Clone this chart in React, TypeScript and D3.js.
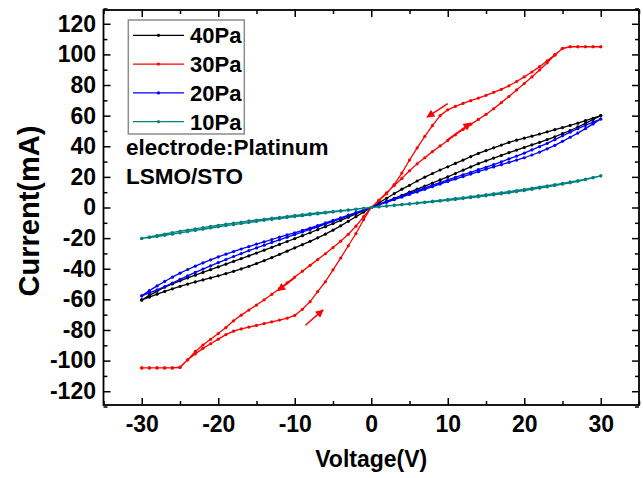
import React, { useRef, useEffect } from 'react';
import * as d3 from 'd3';

// sweep voltages (V)
const VOLTS = [0, 1, 2, 3, 4, 5, 6, 7, 8, 9, 10, 11, 12, 13, 14, 15, 16, 17, 18, 19, 20, 21, 22, 23, 24, 25, 26, 27, 28, 29, 30];
const NEG_VOLTS = [0, -1, -2, -3, -4, -5, -6, -7, -8, -9, -10, -11, -12, -13, -14, -15, -16, -17, -18, -19, -20, -21, -22, -23, -24, -25, -26, -27, -28, -29, -30];

// currents (mA), each branch listed at VOLTS / NEG_VOLTS order
const P40_POS_A = [0, 3, 6, 9, 12, 14.5, 17.3, 19.8, 22.2, 24.5, 26.6, 28.8, 31, 33.2, 35.3, 37.2, 39, 40.8, 42.5, 44, 45.3, 46.6, 48, 49.4, 50.8, 52.2, 53.6, 55.1, 56.7, 58.3, 60];
const P40_POS_B = [0, 2, 4, 6, 8, 10, 12, 14, 16, 18, 20, 22.2, 24.4, 26.5, 28.6, 30.5, 32.3, 34, 35.8, 37.5, 39.2, 40.9, 42.6, 44.4, 46.2, 48.2, 50.3, 52.6, 55, 57.5, 60];
const P40_NEG_A = [0, -3, -6, -9, -12, -14.8, -17.4, -19.8, -22.1, -24.3, -26.4, -28.5, -30.6, -32.7, -34.7, -36.6, -38.4, -40.1, -41.7, -43.2, -44.6, -46, -47.3, -48.6, -50, -51.5, -53.1, -54.8, -56.6, -58.5, -60.4];
const P40_NEG_B = [0, -2.1, -4.2, -6.3, -8.4, -10.5, -12.5, -14.5, -16.5, -18.4, -20.3, -22.2, -24.1, -26, -27.9, -29.8, -31.6, -33.4, -35.2, -37, -38.8, -40.6, -42.4, -44.2, -46, -47.9, -49.9, -52.1, -54.6, -57.4, -60.4];

const P30_POS_A = [0, 4.8, 9.6, 14.3, 19, 24, 28.5, 32.5, 36.5, 40.2, 43.8, 47.5, 51, 54.3, 57.5, 60.8, 64.5, 68.5, 72.5, 76.8, 81, 85.3, 89.8, 94.5, 99.5, 104, 105, 105, 105, 105, 105];
const P30_POS_B = [0, 4.5, 9, 15, 22.5, 31, 39, 46.5, 53.5, 60, 63.8, 66, 68, 69.8, 71.5, 73.3, 75.2, 77.2, 79.5, 82.3, 85.3, 88.5, 92, 95.8, 99.8, 103.8, 105, 105, 105, 105, 105];
const P30_NEG_A = [0, -6, -12.2, -17.5, -22, -26.2, -30.2, -34, -37.8, -41.6, -45.4, -49.2, -53, -56.7, -60.3, -63.7, -67, -70.3, -74, -78.4, -82.3, -86.1, -89.8, -94, -99.5, -104.5, -104.8, -104.8, -104.8, -104.8, -104.8];
const P30_NEG_B = [0, -8, -17, -25, -33, -40.7, -48.5, -55, -61.5, -66.5, -70.5, -72.3, -73.5, -74.7, -75.8, -77, -78.1, -79.3, -80.8, -83, -86, -89, -92, -95.6, -99.5, -104.2, -104.8, -104.8, -104.8, -104.8, -104.8];

const P20_POS_A = [0, 1.9, 3.8, 5.6, 7.4, 9.2, 11, 12.8, 14.6, 16.3, 18, 19.7, 21.4, 23, 24.7, 26.3, 28, 29.8, 31.7, 33.6, 35.5, 37.6, 39.7, 41.9, 44.3, 46.8, 49.2, 51.5, 53.6, 55.7, 57.8];
const P20_POS_B = [0, 1.7, 3.4, 5.1, 6.8, 8.5, 10.2, 11.9, 13.6, 15.3, 17, 18.6, 20.2, 21.8, 23.4, 25, 26.5, 28, 29.5, 31, 32.5, 34.3, 36.2, 38.3, 40.6, 43.2, 45.9, 48.6, 51.5, 54.6, 57.8];
const P20_NEG_A = [0, -1.6, -3.3, -5, -6.7, -8.4, -10.1, -11.8, -13.4, -15, -16.5, -17.9, -19.4, -20.9, -22.4, -23.9, -25.5, -27.1, -28.8, -30.5, -32.3, -34.2, -36.2, -38.3, -40.5, -42.9, -45.5, -48.3, -51.2, -54.3, -57.7];
const P20_NEG_B = [0, -1.8, -3.6, -5.4, -7.2, -9, -10.8, -12.6, -14.3, -16, -17.7, -19.4, -21.1, -22.8, -24.6, -26.4, -28.2, -30.1, -32, -34, -36, -38.1, -40.2, -42.4, -44.7, -47, -49.3, -51.6, -53.8, -55.8, -57.7];

const P10_POS_A = [0, 0.5, 1, 1.5, 2, 2.5, 3, 3.6, 4.1, 4.7, 5.3, 5.9, 6.5, 7.1, 7.7, 8.4, 9, 9.7, 10.4, 11.1, 11.8, 12.6, 13.4, 14.2, 15, 15.8, 16.7, 17.6, 18.6, 19.6, 20.7];
const P10_POS_B = [0, 0.45, 0.9, 1.35, 1.8, 2.25, 2.7, 3.2, 3.7, 4.2, 4.7, 5.2, 5.8, 6.4, 7, 7.6, 8.2, 8.9, 9.6, 10.3, 11, 11.8, 12.6, 13.4, 14.3, 15.2, 16.1, 17.1, 18.2, 19.4, 20.7];
const P10_NEG_A = [0, -0.5, -1, -1.5, -2, -2.5, -3, -3.5, -4, -4.6, -5.2, -5.8, -6.4, -7, -7.6, -8.2, -8.8, -9.5, -10.2, -10.9, -11.6, -12.3, -13.1, -13.9, -14.7, -15.5, -16.4, -17.3, -18.2, -19.2, -20.2];
const P10_NEG_B = [0, -0.6, -1.2, -1.8, -2.4, -3, -3.6, -4.2, -4.8, -5.4, -6, -6.6, -7.2, -7.8, -8.4, -9.1, -9.8, -10.5, -11.2, -11.9, -12.6, -13.4, -14.2, -15, -15.8, -16.6, -17.4, -18.2, -19, -19.6, -20.2];

const SERIES_NAMES = ['40Pa', '30Pa', '20Pa', '10Pa'];
const SERIES_COLORS = ['#000000', '#ff0000', '#0000ff', '#008080'];

// sweep direction arrows for 30Pa: [fromV, fromI, toV, toI]
const ARROWS = [
    [10, 67.8, 7.3, 59.1],
    [10, 44.3, 13.0, 55.2],
    [-9.9, -45.5, -12.2, -54.3],
    [-8.6, -76.9, -6.3, -66.9],
];

const X_TICKS = [-30, -20, -10, 0, 10, 20, 30];
const X_MINOR = [-35, -25, -15, -5, 5, 15, 25, 35];
const Y_TICKS = [-120, -100, -80, -60, -40, -20, 0, 20, 40, 60, 80, 100, 120];
const Y_MINOR = [-130, -110, -90, -70, -50, -30, -10, 10, 30, 50, 70, 90, 110, 130];

const NOTES = ['electrode:Platinum', 'LSMO/STO'];

const FONT = '"Liberation Sans", Arial, sans-serif';

const loop = (posA: number[], posB: number[], negA: number[], negB: number[]) => [
    ...VOLTS.map((v, i) => [v, posA[i]]),
    ...VOLTS.map((v, i) => [v, posB[i]]).reverse(),
    ...NEG_VOLTS.map((v, i) => [v, negA[i]]),
    ...NEG_VOLTS.map((v, i) => [v, negB[i]]).reverse(),
];

const LOOPS = [
    loop(P40_POS_A, P40_POS_B, P40_NEG_A, P40_NEG_B),
    loop(P30_POS_A, P30_POS_B, P30_NEG_A, P30_NEG_B),
    loop(P20_POS_A, P20_POS_B, P20_NEG_A, P20_NEG_B),
    loop(P10_POS_A, P10_POS_B, P10_NEG_A, P10_NEG_B),
];

const App = () => {
    const svgRef = useRef<SVGSVGElement>(null);
    const width = 643;
    const height = 478;

    useEffect(() => {
        if (!svgRef.current) return;
        const svg = d3.select(svgRef.current);
        svg.selectAll('*').remove();

        const left = 103.5, right = 639, top = 10, bottom = 405;

        const x = d3.scaleLinear().domain([-35, 35]).range([left, right]);
        const y = d3.scaleLinear().domain([-129, 129]).range([bottom, top]);

        svg.append('rect').attr('width', width).attr('height', height).attr('fill', '#fff');

        const defs = svg.append('defs');
        defs.append('marker')
            .attr('id', 'arrowhead')
            .attr('viewBox', '0 0 10 10')
            .attr('refX', 9)
            .attr('refY', 5)
            .attr('markerUnits', 'userSpaceOnUse')
            .attr('markerWidth', 10)
            .attr('markerHeight', 8)
            .attr('orient', 'auto')
            .append('path')
            .attr('d', 'M0,0 L10,5 L0,10 z')
            .attr('fill', '#ff0000');

        // axes, ticks inside on all four sides
        const fmt = (d: any) => String(d);
        const axisB = svg.append('g').attr('transform', `translate(0,${bottom})`)
            .call(d3.axisBottom(x).tickValues(X_TICKS).tickSize(-7).tickPadding(10.5).tickFormat(fmt));
        svg.append('g').attr('transform', `translate(0,${bottom})`)
            .call(d3.axisBottom(x).tickValues(X_MINOR).tickSize(-4).tickFormat(() => ''));
        svg.append('g').attr('transform', `translate(0,${top})`)
            .call(d3.axisTop(x).tickValues(X_TICKS).tickSize(-7).tickFormat(() => ''));
        svg.append('g').attr('transform', `translate(0,${top})`)
            .call(d3.axisTop(x).tickValues(X_MINOR).tickSize(-4).tickFormat(() => ''));
        const axisL = svg.append('g').attr('transform', `translate(${left},0)`)
            .call(d3.axisLeft(y).tickValues(Y_TICKS).tickSize(-7).tickPadding(7.5).tickFormat(fmt));
        svg.append('g').attr('transform', `translate(${left},0)`)
            .call(d3.axisLeft(y).tickValues(Y_MINOR).tickSize(-4).tickFormat(() => ''));
        svg.append('g').attr('transform', `translate(${right},0)`)
            .call(d3.axisRight(y).tickValues(Y_TICKS).tickSize(-7).tickFormat(() => ''));
        svg.append('g').attr('transform', `translate(${right},0)`)
            .call(d3.axisRight(y).tickValues(Y_MINOR).tickSize(-4).tickFormat(() => ''));

        svg.selectAll('.domain').remove();
        svg.selectAll('.tick line').attr('stroke', '#000').attr('stroke-width', 1.5);
        [axisB, axisL].forEach(a => a.selectAll('text')
            .attr('font-family', FONT)
            .attr('font-weight', 'bold')
            .attr('font-size', 23)
            .attr('fill', '#000'));

        // frame
        svg.append('rect')
            .attr('x', left).attr('y', top)
            .attr('width', right - left).attr('height', bottom - top)
            .attr('fill', 'none').attr('stroke', '#000').attr('stroke-width', 1.8);

        // I-V loops
        const line = d3.line<number[]>().x(d => x(d[0])).y(d => y(d[1]));
        LOOPS.forEach((pts, k) => {
            const g = svg.append('g');
            g.append('path')
                .attr('d', line(pts))
                .attr('fill', 'none')
                .attr('stroke', SERIES_COLORS[k])
                .attr('stroke-width', 1.3)
                .attr('stroke-linejoin', 'round');
            g.selectAll('circle')
                .data(pts)
                .enter()
                .append('circle')
                .attr('cx', d => x(d[0]))
                .attr('cy', d => y(d[1]))
                .attr('r', 1.6)
                .attr('fill', SERIES_COLORS[k]);
        });

        // arrows
        svg.selectAll('.arrow')
            .data(ARROWS)
            .enter()
            .append('line')
            .attr('x1', d => x(d[0]))
            .attr('y1', d => y(d[1]))
            .attr('x2', d => x(d[2]))
            .attr('y2', d => y(d[3]))
            .attr('stroke', '#ff0000')
            .attr('stroke-width', 1.5)
            .attr('marker-end', 'url(#arrowhead)');

        // legend
        const lg = svg.append('g');
        lg.append('rect')
            .attr('x', 128.3).attr('y', 20)
            .attr('width', 116).attr('height', 114)
            .attr('fill', '#fff').attr('stroke', '#8c8c8c').attr('stroke-width', 1.5);
        SERIES_NAMES.forEach((name, i) => {
            const ry = 35.3 + i * 28.8;
            lg.append('line')
                .attr('x1', 133).attr('x2', 184).attr('y1', ry).attr('y2', ry)
                .attr('stroke', SERIES_COLORS[i]).attr('stroke-width', 1.3);
            lg.append('circle').attr('cx', 158.5).attr('cy', ry).attr('r', 1.6).attr('fill', SERIES_COLORS[i]);
            lg.append('text')
                .attr('x', 190).attr('y', ry).attr('dy', '0.36em')
                .attr('font-family', FONT).attr('font-weight', 'bold').attr('font-size', 22)
                .text(name);
        });

        // notes
        NOTES.forEach((t, i) => {
            svg.append('text')
                .attr('x', 126).attr('y', 155 + i * 29)
                .attr('font-family', FONT).attr('font-weight', 'bold').attr('font-size', 22.5)
                .text(t);
        });

        // axis titles
        svg.append('text')
            .attr('x', (left + right) / 2).attr('y', 467)
            .attr('text-anchor', 'middle')
            .attr('font-family', FONT).attr('font-weight', 'bold').attr('font-size', 23)
            .text('Voltage(V)');

        svg.append('text')
            .attr('transform', `translate(39,${211}) rotate(-90)`)
            .attr('text-anchor', 'middle')
            .attr('font-family', FONT).attr('font-weight', 'bold').attr('font-size', 29)
            .text('Current(mA)');
    }, []);

    return (
        <svg ref={svgRef} width={width} height={height}
            style={{ position: 'absolute', left: 0, top: 0, background: '#fff' }} />
    );
};

export default App;
